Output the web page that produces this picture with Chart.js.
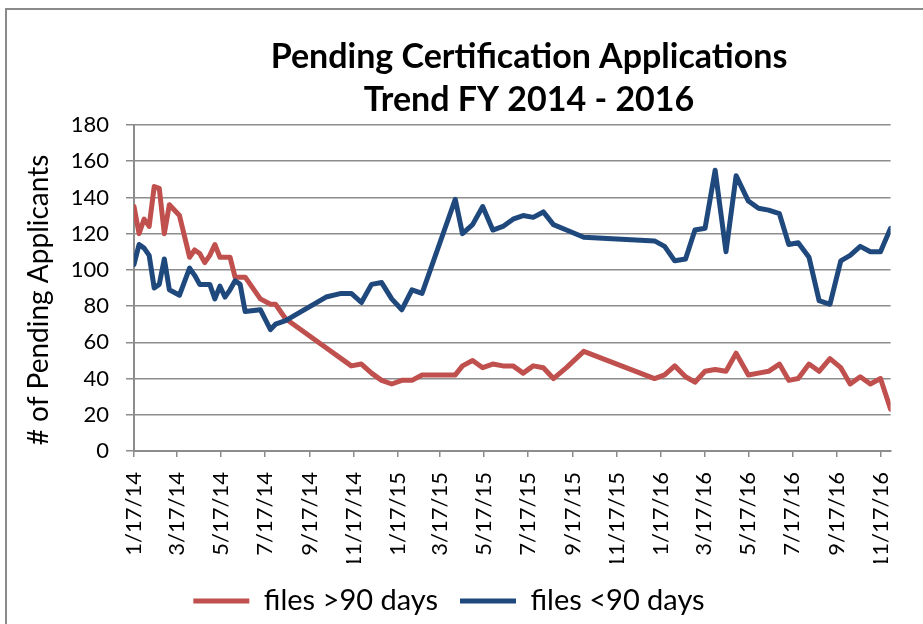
<!DOCTYPE html>
<html>
<head>
<meta charset="utf-8">
<script src="https://cdn.jsdelivr.net/npm/chart.js@4.4.1/dist/chart.umd.min.js"></script>
<style>
  html, body { margin: 0; padding: 0; background: #ffffff; }
  #wrap { width: 923px; height: 624px; position: relative; }
</style>
</head>
<body>
<div id="wrap"><canvas id="c" width="923" height="624"></canvas></div>
<script>
// ---------------- data ----------------
const chartTitle = ['Pending Certification Applications', 'Trend FY 2014 - 2016'];
const yAxisTitle = '# of Pending Applicants';
const seriesNames = ['files >90 days', 'files <90 days'];

const dates = [
  '2014-01-17','2014-01-24','2014-01-31','2014-02-07','2014-02-14','2014-02-21','2014-02-28','2014-03-07',
  '2014-03-21','2014-04-04','2014-04-11','2014-04-18','2014-04-25','2014-05-02','2014-05-09','2014-05-16',
  '2014-05-23','2014-05-30','2014-06-06','2014-06-13','2014-06-20','2014-07-11','2014-07-25','2014-08-01',
  '2014-08-15','2014-10-10','2014-10-31','2014-11-14','2014-11-28','2014-12-12','2014-12-26','2015-01-09',
  '2015-01-23','2015-02-06','2015-02-20','2015-04-07','2015-04-17','2015-05-01','2015-05-15','2015-05-29',
  '2015-06-12','2015-06-26','2015-07-10','2015-07-24','2015-08-07','2015-08-21','2015-09-08','2015-10-02',
  '2016-01-08','2016-01-22','2016-02-05','2016-02-20','2016-03-04','2016-03-18','2016-04-01','2016-04-16',
  '2016-04-30','2016-05-17','2016-05-31','2016-06-14','2016-06-29','2016-07-12','2016-07-25','2016-08-09',
  '2016-08-23','2016-09-07','2016-09-22','2016-10-05','2016-10-19','2016-11-02','2016-11-16','2016-11-30'
];

const over90 = [
  135, 120, 128, 124, 146, 145, 120, 136,
  130, 107, 111, 109, 104, 108, 114, 107,
  107, 107, 96, 96, 96, 84, 81, 81,
  73, 57, 51, 47, 48, 43, 39, 37,
  39, 39, 42, 42, 47, 50, 46, 48,
  47, 47, 43, 47, 46, 40, 46, 55,
  40, 42, 47, 41, 38, 44, 45, 44,
  54, 42, 43, 44, 48, 39, 40, 48,
  44, 51, 46, 37, 41, 37, 40, 23
];

const under90 = [
  103, 114, 112, 108, 90, 92, 106, 89,
  86, 101, 97, 92, 92, 92, 84, 91,
  85, 89, 94, 92, 77, 78, 67, 70,
  72, 85, 87, 87, 82, 92, 93, 84,
  78, 89, 87, 139, 120, 125, 135, 122,
  124, 128, 130, 129, 132, 125, 122, 118,
  116, 113, 105, 106, 122, 123, 155, 110,
  152, 138, 134, 133, 131, 114, 115, 107,
  83, 81, 105, 108, 113, 110, 110, 123
];

const tickLabels = ['1/17/14','3/17/14','5/17/14','7/17/14','9/17/14','11/17/14',
                    '1/17/15','3/17/15','5/17/15','7/17/15','9/17/15','11/17/15',
                    '1/17/16','3/17/16','5/17/16','7/17/16','9/17/16','11/17/16'];

const yMin = 0, yMax = 180, yStep = 20;

// ---------------- helpers ----------------
const DAY = 86400000;
const base = Date.UTC(2014, 0, 17);
function isoToDay(s) {
  const [y, m, d] = s.split('-').map(Number);
  return Math.round((Date.UTC(y, m - 1, d) - base) / DAY);
}
function labelToDay(s) {
  const [m, d, yy] = s.split('/').map(Number);
  return Math.round((Date.UTC(2000 + yy, m - 1, d) - base) / DAY);
}
const xs = dates.map(isoToDay);
const tickDays = tickLabels.map(labelToDay);

const RED = '#C0504D';
const BLUE = '#1F497D';
const GRID = '#8c8c8c';
const FONT = 'Lato';
const LEGEND_FONT = 29;
const LEGEND_PAD = 22;

const layoutPlugin = {
  id: 'layoutTweaks',
  afterLayout(chart) {
    const t = chart.titleBlock;
    if (t) {
      const w = t.right - t.left;
      const cx = 529;
      t.left = cx - w / 2; t.right = cx + w / 2;
    }
    const lg = chart.legend;
    if (lg) {
      const w = lg.right - lg.left;
      const cx = 449;
      lg.left = cx - w / 2; lg.right = cx + w / 2;
      const h = lg.bottom - lg.top;
      lg.top = 601 - LEGEND_PAD - LEGEND_FONT / 2; lg.bottom = lg.top + h;
    }
  },
  afterDraw(chart) {
    const ctx = chart.ctx;
    ctx.save();
    // outer chart border (left and top visible)
    ctx.strokeStyle = '#8a8a8a';
    ctx.lineWidth = 2;
    ctx.beginPath();
    ctx.moveTo(6, 640); ctx.lineTo(6, 9); ctx.lineTo(940, 9);
    ctx.stroke();
    // y axis title
    ctx.translate(39, 300);
    ctx.rotate(-Math.PI / 2);
    ctx.fillStyle = '#000000';
    ctx.font = '28px ' + FONT;
    ctx.textAlign = 'center';
    ctx.textBaseline = 'middle';
    ctx.fillText(yAxisTitle, 0, 0);
    ctx.restore();
  }
};

function build() {
  new Chart(document.getElementById('c'), {
    type: 'line',
    data: {
      datasets: [
        {
          label: seriesNames[0],
          data: xs.map((x, i) => ({ x: x, y: over90[i] })),
          borderColor: RED, backgroundColor: RED,
          borderWidth: 5, pointRadius: 0, tension: 0,
          borderJoinStyle: 'round', borderCapStyle: 'round', order: 1
        },
        {
          label: seriesNames[1],
          data: xs.map((x, i) => ({ x: x, y: under90[i] })),
          borderColor: BLUE, backgroundColor: BLUE,
          borderWidth: 5, pointRadius: 0, tension: 0,
          borderJoinStyle: 'round', borderCapStyle: 'round', order: 0
        }
      ]
    },
    options: {
      responsive: false,
      animation: false,
      devicePixelRatio: 1,
      layout: { padding: { left: 0, top: 0, right: 32, bottom: 0 } },
      plugins: {
        tooltip: { enabled: false },
        title: {
          display: true,
          text: chartTitle,
          color: '#000000',
          font: { family: FONT, size: 34, weight: 'bold', lineHeight: 43 / 34 },
          padding: { top: 35.5, bottom: 3.5 }
        },
        legend: {
          display: true,
          position: 'bottom',
          labels: {
            usePointStyle: true,
            pointStyle: 'line',
            pointStyleWidth: 56,
            boxHeight: LEGEND_FONT,
            padding: LEGEND_PAD,
            color: '#000000',
            font: { family: FONT, size: LEGEND_FONT },
            sort: (a, b) => a.datasetIndex - b.datasetIndex
          }
        }
      },
      scales: {
        x: {
          type: 'linear',
          min: 0,
          max: xs[xs.length - 1],
          afterBuildTicks(scale) {
            scale.ticks = tickDays.map(v => ({ value: v }));
          },
          afterFit(scale) {
            const lh = scale.chart.legend ? scale.chart.legend.height : 0;
            scale.height = 624 - 451 - lh;
          },
          ticks: {
            autoSkip: false,
            minRotation: 90,
            maxRotation: 90,
            padding: 15,
            color: '#000000',
            font: { family: FONT, size: 22 },
            callback: (value, index) => tickLabels[index]
          },
          grid: { display: true, drawOnChartArea: false, drawTicks: true, tickLength: 6, color: GRID, lineWidth: 1.5 },
          border: { display: true, color: GRID, width: 2 }
        },
        y: {
          min: yMin,
          max: yMax,
          afterFit(scale) { scale.width = 134; },
          ticks: {
            stepSize: yStep,
            padding: 17,
            color: '#000000',
            font: { family: FONT, size: 22 }
          },
          grid: { color: GRID, lineWidth: 1.5, tickLength: 8 },
          border: { display: true, color: GRID, width: 2 }
        }
      }
    },
    plugins: [layoutPlugin]
  });
}
if (document.fonts && document.fonts.load) {
  Promise.all([document.fonts.load('30px Lato'), document.fonts.load('bold 34px Lato')]).then(build, build);
} else { build(); }
</script>
</body>
</html>
